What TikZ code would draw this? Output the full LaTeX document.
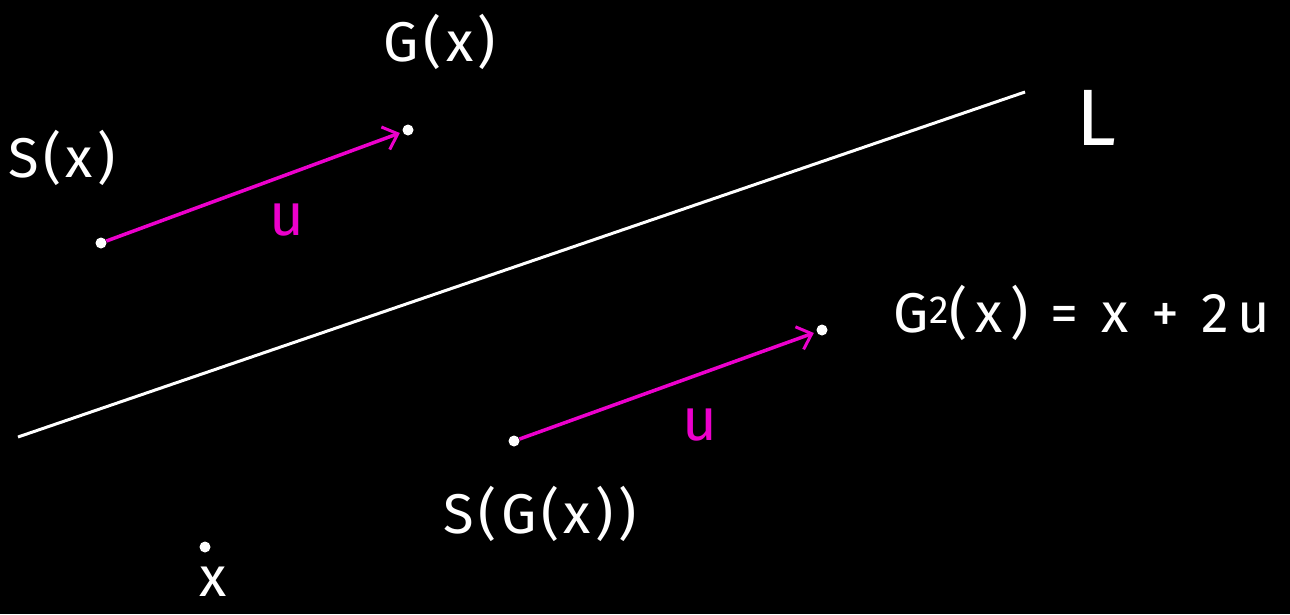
\documentclass[tikz,border=0pt]{standalone}
\usepackage{fontspec}
\setmainfont{Fira Sans}
\usetikzlibrary{arrows.meta}
\definecolor{mag}{RGB}{236,0,204}
\tikzset{
  pt/.style={circle,fill=white,inner sep=0pt,minimum size=11pt},
  lbl/.style={text=white,font=\fontsize{56}{62}\selectfont,inner sep=0pt},
  ulbl/.style={text=mag,font=\fontsize{60}{66}\selectfont,inner sep=0pt},
  vec/.style={draw=mag,line width=3.5pt,-{Straight Barb[length=13pt,width=24pt,line width=3pt]},shorten >=3pt},
  lineL/.style={draw=white,line width=3pt}
}
\begin{document}
\begin{tikzpicture}[x=1pt,y=-1pt]
\fill[black] (0,0) rectangle (1290,614);
\useasboundingbox (0,0) rectangle (1290,614);
% line L
\coordinate (La) at (18,437);
\coordinate (Lb) at (1025,92);
\draw[lineL] (La) -- (Lb);
\node[text=white,font=\fontsize{80}{86}\selectfont,inner sep=0pt] (Llbl) at (1096,118) {L};
% points
\node[pt] (sx) at (101,243) {};
\node[pt] (gx) at (408,130) {};
\node[pt] (sgx) at (514,441) {};
\node[pt] (g2x) at (822,330) {};
\node[pt] (x) at (205,547) {};
% vectors
\draw[vec] (sx) -- (gx);
\draw[vec] (sgx) -- (g2x);
% labels
\node[lbl] (lgx) at (440,42) {\addfontfeatures{LetterSpace=8}G(x)};
\node[lbl] (lsx) at (62,158) {\addfontfeatures{LetterSpace=8}S(x)};
\node[ulbl] (u1) at (287,220) {u};
\node[ulbl] (u2) at (700,425) {u};
\node[lbl] (lg2) at (1082,313) {\addfontfeatures{LetterSpace=14}G\textsuperscript{2}(x) = x + 2u};
\node[lbl] (lsgx) at (540,514) {\addfontfeatures{LetterSpace=8}S(G(x))};
\node[lbl] (lx) at (213,582) {x};
\end{tikzpicture}
\end{document}
